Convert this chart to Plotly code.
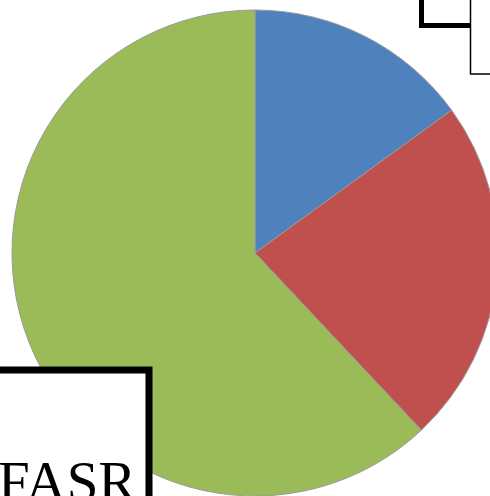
import plotly.graph_objects as go

# Data
categories = ["Series 1", "Series 2", "Series 3"]
values = [15, 23, 62]
colors = ["#4F81BD", "#C0504D", "#9BBB59"]
label_text = "FASR"

W, H = 498, 496

def px(x):
    return x / W

def py(y):
    return 1 - y / H

fig = go.Figure()
fig.add_trace(go.Pie(
    labels=categories,
    values=values,
    sort=False,
    direction="clockwise",
    rotation=0,
    marker=dict(colors=colors, line=dict(color="#9a9a9a", width=1)),
    textinfo="none",
    hoverinfo="label+percent",
    domain=dict(x=[12 / W, 1], y=[0, 1 - 10 / H]),
    showlegend=False,
))

shapes = [
    # thick box top right
    dict(type="rect", xref="paper", yref="paper",
         x0=px(421.5), x1=px(560), y0=py(-30), y1=py(25.5),
         line=dict(color="black", width=5), fillcolor="white", layer="above"),
    # thin box top right
    dict(type="rect", xref="paper", yref="paper",
         x0=px(470.5), x1=px(560), y0=py(-30), y1=py(74),
         line=dict(color="black", width=1.5), fillcolor="white", layer="above"),
    # bottom-left thick box
    dict(type="rect", xref="paper", yref="paper",
         x0=px(-40), x1=px(149), y0=py(370), y1=py(560),
         line=dict(color="black", width=7), fillcolor="white", layer="above"),
]

fig.update_layout(
    width=W, height=H,
    margin=dict(l=0, r=0, t=0, b=0),
    paper_bgcolor="white",
    plot_bgcolor="white",
    shapes=shapes,
    annotations=[dict(
        text=label_text, xref="paper", yref="paper",
        x=px(-4), y=py(515), xanchor="left", yanchor="bottom",
        showarrow=False,
        font=dict(family="Liberation Serif", size=57, color="black"),
    )],
)

fig.write_html(
    "out.html",
    config={"displayModeBar": False},
    post_script="document.body.style.margin='0';document.body.style.overflow='hidden';document.documentElement.style.overflow='hidden';",
)
